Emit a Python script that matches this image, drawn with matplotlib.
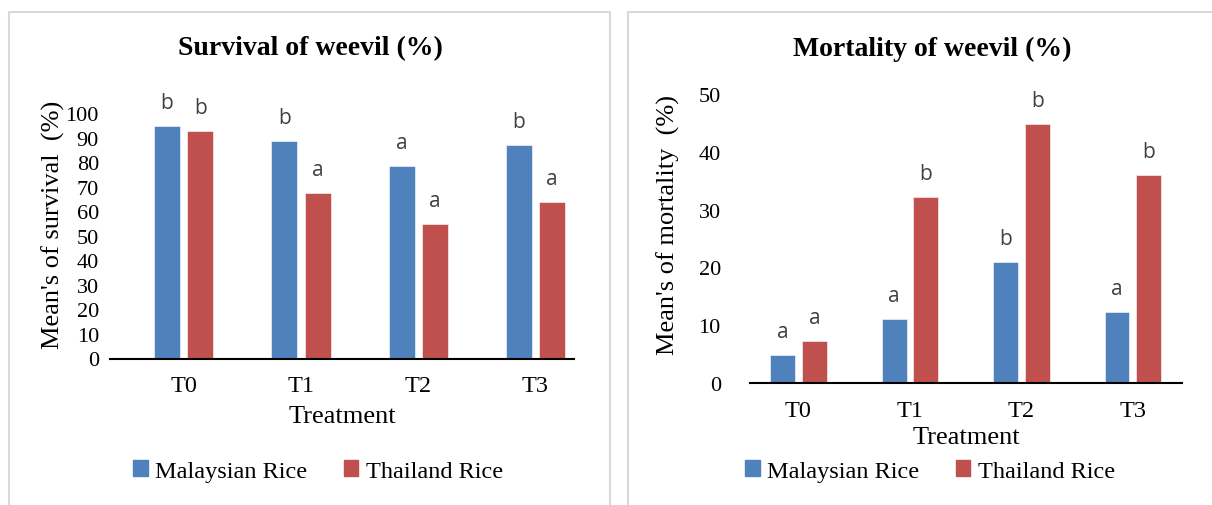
import matplotlib
matplotlib.use('Agg')
from matplotlib import pyplot as plt
from matplotlib.lines import Line2D
from matplotlib.patches import Patch
import numpy as np

# data
treatments = ['T0', 'T1', 'T2', 'T3']
survival_my = [94.7, 88.6, 78.5, 87.1]
survival_th = [92.5, 67.3, 54.7, 63.7]
mortality_my = [4.8, 11.0, 21.0, 12.3]
mortality_th = [7.3, 32.2, 44.8, 36.0]
surv_letters_my = ['b', 'b', 'a', 'b']
surv_letters_th = ['b', 'a', 'a', 'a']
mort_letters_my = ['a', 'a', 'b', 'a']
mort_letters_th = ['a', 'b', 'b', 'b']
series_names = ['Malaysian Rice', 'Thailand Rice']

BLUE = '#4F81BD'
RED = '#C0504D'
SERIF = 'Liberation Serif'
W, H = 1212, 506

fig = plt.figure(figsize=(W / 100, H / 100), dpi=100)


def px(x0, y0, x1, y1):
    # pixel box (top-left origin) -> figure fraction rect
    return [x0 / W, 1 - y1 / H, (x1 - x0) / W, (y1 - y0) / H]


# panel frames (light grey, like the two Excel chart boxes)
for xs, ys in [([9, 9, 610, 610], [H, 12.5, 12.5, H]),
               ([628, 628, W], [H, 12.5, 12.5])]:
    fig.add_artist(Line2D([x / W for x in xs], [1 - y / H for y in ys],
                          color='#D9D9D9', lw=1.5))


def draw(ax, mal, tha, lmal, ltha, ymax, step, xlim, ylab, tpad, lab_x, lab_y, xlab_y):
    x = np.arange(len(treatments))
    off, bw = 0.142, 0.222
    b1 = ax.bar(x - off, mal, bw, color=BLUE, edgecolor='white', linewidth=0.4)
    b2 = ax.bar(x + off, tha, bw, color=RED, edgecolor='white', linewidth=0.4)
    for bars, letters in [(b1, lmal), (b2, ltha)]:
        for r, s in zip(bars, letters):
            ax.annotate(s, (r.get_x() + r.get_width() / 2, r.get_height()),
                        xytext=(0, 17), textcoords='offset points',
                        ha='center', va='center', fontsize=15,
                        family='Open Sans', color='#404040', annotation_clip=False)
    ax.set_xlim(*xlim)
    ax.set_ylim(0, ymax)
    ax.set_yticks(np.arange(0, ymax + 1, step))
    ax.set_xticks(x)
    ax.set_xticklabels(treatments)
    for sp in ['top', 'right', 'left']:
        ax.spines[sp].set_visible(False)
    ax.spines['bottom'].set_linewidth(1.5)
    ax.tick_params(axis='both', length=0)
    ax.tick_params(axis='y', pad=tpad, labelsize=16)
    ax.tick_params(axis='x', pad=12, labelsize=17.5)
    for t in ax.get_xticklabels() + ax.get_yticklabels():
        t.set_family(SERIF)
    ax.set_xlabel('Treatment', family=SERIF, fontsize=19, va='center')
    ax.xaxis.set_label_coords(0.5, xlab_y)
    ax.set_ylabel(ylab, family=SERIF, fontsize=19)
    ax.yaxis.set_label_coords(lab_x, lab_y)


ax1 = fig.add_axes(px(110, 114, 574, 359.5))
draw(ax1, survival_my, survival_th, surv_letters_my, surv_letters_th,
     100, 10, (-0.627, 3.328), "Mean's of survival  (%)", 8, -0.097, 0.55, -0.234)
ax2 = fig.add_axes(px(750, 95, 1182, 384))
draw(ax2, mortality_my, mortality_th, mort_letters_my, mort_letters_th,
     50, 10, (-0.435, 3.44), "Mean's of mortality  (%)", 21, -0.163, 0.55, -0.186)

fig.text(310 / W, 1 - 49 / H, 'Survival of weevil (%)', ha='center', va='center',
         family=SERIF, fontsize=20, fontweight='bold')
fig.text(932 / W, 1 - 49 / H, 'Mortality of weevil (%)', ha='center', va='center',
         family=SERIF, fontsize=20, fontweight='bold')

handles = [Patch(color=BLUE), Patch(color=RED)]
for cx in [318, 930]:
    fig.legend(handles, series_names, loc='center', bbox_to_anchor=(cx / W, 1 - 472 / H),
               ncol=2, frameon=False, prop={'family': SERIF, 'size': 17.5},
               handlelength=0.6, handleheight=0.6, handletextpad=0.3,
               columnspacing=1.5)

fig.savefig('out.png', dpi=100)
